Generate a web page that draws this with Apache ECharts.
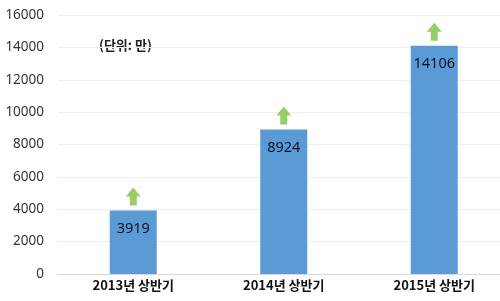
<!DOCTYPE html>
<html>
<head>
<meta charset="utf-8">
<script src="https://cdn.jsdelivr.net/npm/echarts@6/dist/echarts.min.js"></script>
<style>html,body{margin:0;padding:0;background:#fff}#c{width:500px;height:301px}</style>
</head>
<body>
<div id="c"></div>
<script>
const categories = ['2013년 상반기', '2014년 상반기', '2015년 상반기'];
const values = [3919, 8924, 14106];
const yTicks = [0, 2000, 4000, 6000, 8000, 10000, 12000, 14000, 16000];
const unitText = '(단위: 만)';

const chart = echarts.init(document.getElementById('c'), null, {renderer: 'canvas'});
const arrow = 'path://M4,18 L11,18 L11,9 L15,9 L7.5,0 L0,9 L4,9 Z';
chart.setOption({
  animation: false,
  grid: {left: 58, width: 451.5, top: 15, bottom: 27, outerBoundsMode: 'none', containLabel: false},
  xAxis: {
    type: 'category',
    data: categories,
    axisTick: {show: false},
    axisLine: {lineStyle: {color: '#d9d9d9', width: 1}},
    axisLabel: {color: '#111', fontSize: 13, fontWeight: 'bold', fontFamily: 'Noto Sans CJK KR', margin: 5}
  },
  yAxis: {
    type: 'value',
    min: yTicks[0],
    max: yTicks[yTicks.length - 1],
    interval: 2000,
    axisLine: {show: false},
    axisTick: {show: false},
    splitLine: {lineStyle: {color: '#eeeeee'}},
    axisLabel: {color: '#333', fontSize: 13.5, fontFamily: 'Noto Sans', margin: 14, formatter: v => String(v)}
  },
  graphic: [{
    type: 'text', left: 99, top: 39,
    style: {text: unitText, fontSize: 13, fontWeight: 'bold', fill: '#222', fontFamily: 'Noto Sans CJK KR'}
  }],
  series: [{
    type: 'bar',
    data: values,
    barWidth: 47,
    itemStyle: {color: '#5b9bd5'},
    label: {show: true, position: 'insideTop', distance: 11, color: '#111122', fontSize: 14.5, fontFamily: 'Noto Sans'}
  }, {
    type: 'scatter',
    data: values,
    symbol: arrow,
    symbolSize: [15, 18],
    symbolOffset: [0, -14],
    itemStyle: {color: '#7dc242'},
    z: 5
  }]
});
</script>
</body>
</html>
